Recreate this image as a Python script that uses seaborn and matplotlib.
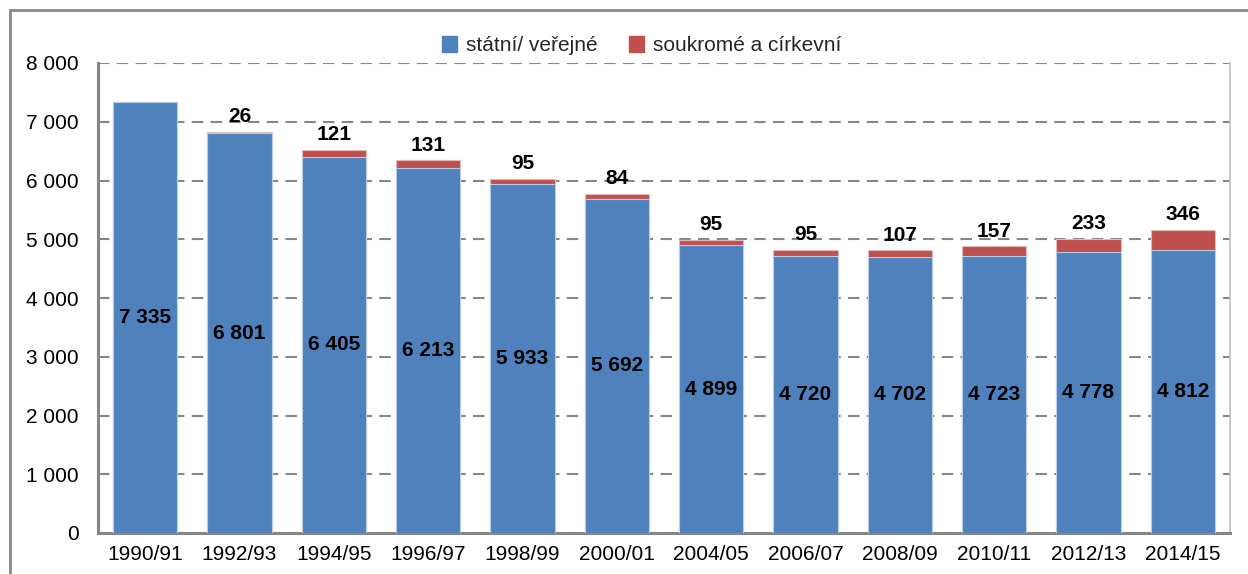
import matplotlib
matplotlib.use("Agg")
import matplotlib.pyplot as plt
import matplotlib.ticker as mticker
from matplotlib.lines import Line2D
from matplotlib.patches import Patch
import seaborn as sns
import pandas as pd
import numpy as np

years = ["1990/91", "1992/93", "1994/95", "1996/97", "1998/99", "2000/01",
         "2004/05", "2006/07", "2008/09", "2010/11", "2012/13", "2014/15"]
public = [7335, 6801, 6405, 6213, 5933, 5692, 4899, 4720, 4702, 4723, 4778, 4812]
private = [0, 26, 121, 131, 95, 84, 95, 95, 107, 157, 233, 346]

label_public = "státní/ veřejné"
label_private = "soukromé a církevní"

BLUE = "#4F81BD"
RED = "#C0504D"
GRID = "#868686"

sns.set_theme(style="white")
plt.rcParams["font.family"] = ["Liberation Sans", "DejaVu Sans"]

df = pd.DataFrame({"year": years, "public": public, "private": private})
df["total"] = df["public"] + df["private"]

fig = plt.figure(figsize=(12.48, 5.74), dpi=100)
ax = fig.add_axes([98 / 1248, 1 - 533 / 574, (1230 - 98) / 1248, (533 - 63) / 574])

sns.barplot(data=df, x="year", y="total", color=RED, saturation=1, width=0.68,
            edgecolor="#E6B9B8", linewidth=0.8, ax=ax, zorder=2)
sns.barplot(data=df, x="year", y="public", color=BLUE, saturation=1, width=0.68,
            edgecolor="#B9CDE5", linewidth=0.8, ax=ax, zorder=3)

ax.set_ylim(0, 8000)
ax.set_xlim(-0.5, len(years) - 0.5)
ax.set_yticks(np.arange(0, 8001, 1000))
ax.yaxis.set_major_formatter(mticker.FuncFormatter(lambda v, p: f"{int(v):,}".replace(",", " ")))
ax.yaxis.grid(True, linestyle=(0, (5.5, 3.5)), color=GRID, linewidth=1.5, zorder=0)
ax.set_axisbelow(True)

ax.set_xlabel("")
ax.set_ylabel("")
ax.tick_params(axis="x", which="major", length=0, labelsize=15, pad=9, colors="black")
ax.set_xticks(np.arange(-0.5, len(years), 1), minor=True)
ax.tick_params(axis="x", which="minor", length=6, width=1.5, color=GRID, direction="out")
ax.tick_params(axis="y", which="major", length=6, width=1.5, color=GRID, direction="out",
               labelsize=15, pad=8, labelcolor="black")

for s in ["left", "bottom"]:
    ax.spines[s].set_color(GRID)
    ax.spines[s].set_linewidth(2.2)
ax.spines["right"].set_color("#BFBFBF")
ax.spines["right"].set_linewidth(1.2)
ax.spines["top"].set_visible(False)

for i, row in df.iterrows():
    ax.text(i, row["public"] / 2, f"{row['public']:,}".replace(",", " "),
            ha="center", va="center", fontsize=15, fontweight="bold", color="black", zorder=5)
    if row["private"] > 0:
        ax.annotate(str(row["private"]), (i, row["total"]), xytext=(0, 7),
                    textcoords="offset points", ha="center", va="baseline",
                    fontsize=15, fontweight="bold", color="black", zorder=5)

handles = [Patch(facecolor=BLUE, edgecolor=BLUE), Patch(facecolor=RED, edgecolor=RED)]
ax.legend(handles, [label_public, label_private], loc="lower center",
          bbox_to_anchor=(0.48, 0.99), ncol=2, frameon=False, fontsize=15,
          handlelength=0.75, handleheight=0.75, handletextpad=0.4, columnspacing=1.5,
          borderaxespad=0.2)

# outer chart frame (left and top edges visible)
fig.add_artist(Line2D([10 / 1248, 10 / 1248], [0, 1 - 10 / 574], transform=fig.transFigure,
                      color="#898989", linewidth=2))
fig.add_artist(Line2D([10 / 1248, 1], [1 - 10 / 574, 1 - 10 / 574], transform=fig.transFigure,
                      color="#898989", linewidth=2))

fig.savefig("out.png", dpi=100)
